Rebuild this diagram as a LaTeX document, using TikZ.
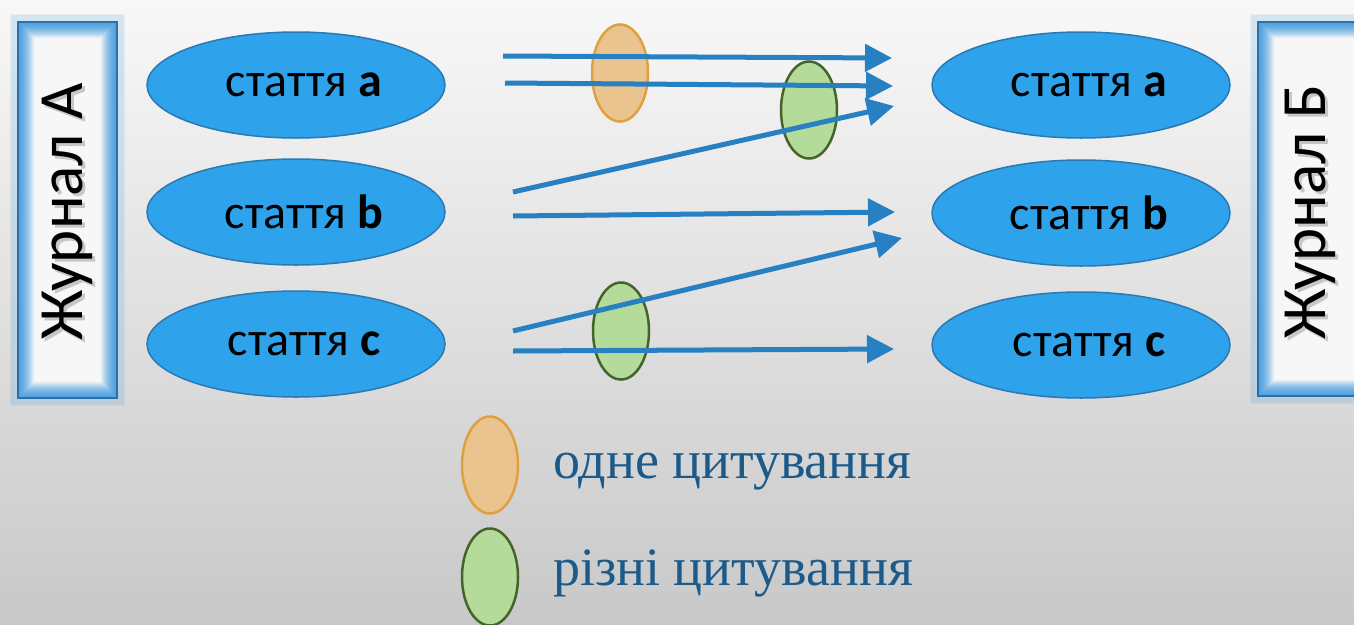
\documentclass[tikz,border=0pt]{standalone}
\usepackage{fontspec}
\setmainfont{Carlito}
\newfontfamily\legendfont{Liberation Serif}
\usetikzlibrary{arrows.meta,shapes.geometric,calc}
\definecolor{bgtop}{HTML}{F8F8F8}
\definecolor{bgbot}{HTML}{C8C8C8}
\definecolor{artfill}{HTML}{2EA2EA}
\definecolor{artline}{HTML}{2A78B4}
\definecolor{arrowblue}{HTML}{2680C2}
\definecolor{orfill}{HTML}{E9C48E}
\definecolor{orline}{HTML}{DFA040}
\definecolor{grfill}{HTML}{B5DB9B}
\definecolor{grline}{HTML}{46642A}
\definecolor{legtext}{HTML}{1C5A8A}
\definecolor{glow}{HTML}{4A9FE0}
\definecolor{frameline}{HTML}{2F6FA8}
\tikzset{
  article/.style={ellipse, fill=artfill, draw=artline, line width=1.5pt,
    minimum width=298pt, minimum height=106pt, inner sep=0pt},
  arttext/.style={inner sep=0pt, font=\fontsize{48}{54}\selectfont},
  cite/.style={arrowblue, line width=5pt, -{Triangle[length=27pt,width=27pt]}},
  onecite/.style={ellipse, fill=orfill, draw=orline, line width=2.5pt,
    minimum width=56pt, minimum height=97pt, inner sep=0pt},
  manycite/.style={ellipse, fill=grfill, draw=grline, line width=2.5pt,
    minimum width=56pt, minimum height=97pt, inner sep=0pt},
  legend/.style={anchor=base west, text=legtext, inner sep=0pt,
    font=\legendfont\fontsize{54}{60}\selectfont},
  journal/.style={rotate=90, inner sep=0pt, font=\fontsize{63}{68}\selectfont}
}
\begin{document}
\begin{tikzpicture}[x=1pt,y=-1pt]
\useasboundingbox (0,0) rectangle (1354,624);
\shade[top color=bgtop, bottom color=bgbot] (0,0) rectangle (1354,624);

% journal frames with glow
\foreach \xa/\xb/\yb in {18/117/398, 1258/1372/396}{
  \foreach \i in {0,...,7}{
    \draw[glow, opacity=0.10, line width=2pt]
      (\xa-\i,22-\i) rectangle (\xb+\i,\yb+\i);
  }
  \fill[white!94!gray] (\xa,22) rectangle (\xb,\yb);
  \foreach \i in {1,...,16}{
    \pgfmathsetmacro{\op}{0.85-0.052*\i}
    \draw[glow, opacity=\op, line width=1.2pt]
      (\xa+\i,22+\i) rectangle (\xb-\i,\yb-\i);
  }
  \draw[frameline, line width=1.2pt] (\xa,22) rectangle (\xb,\yb);
}
\node[journal, text=black!40, opacity=0.5] at (70,215) {Журнал А};
\node[journal] (ja) at (67,212) {Журнал А};
\node[journal, text=black!40, opacity=0.5] at (1313,215) {Журнал Б};
\node[journal] (jb) at (1310,212) {Журнал Б};

% articles
\node[article] (la) at (296,85) {};
\node[article] (lb) at (296,212) {};
\node[article] (lc) at (296,344) {};
\node[article] (ra) at (1081,85) {};
\node[article] (rb) at (1081,213) {};
\node[article] (rc) at (1081,345) {};
\foreach \n/\l in {la/a,lb/b,lc/c,ra/a,rb/b,rc/c}{
  \node[arttext] at ($(\n.center)+(8,0)$) {стаття \textbf{\l}};
}

% citation groups
\node[onecite] (o1) at (620,73) {};
\node[manycite] (g1) at (809,110) {};
\node[manycite] (g2) at (621,331) {};

% arrow ends
\coordinate (s1) at (503,56);  \coordinate (e1) at (892,58);
\coordinate (s2) at (505,83);  \coordinate (e2) at (893,86);
\coordinate (s3) at (513,192); \coordinate (e3) at (894,106);
\coordinate (s4) at (513,216); \coordinate (e4) at (895,212);
\coordinate (s5) at (513,331); \coordinate (e5) at (902,238);
\coordinate (s6) at (513,351); \coordinate (e6) at (894,349);
\foreach \k in {1,...,6}{\draw[cite] (s\k) -- (e\k);}

% legend
\node[onecite] (lo) at (490,465) {};
\node[manycite] (lg) at (490,577) {};
\node[legend] (to) at (553,478) {одне цитування};
\node[legend] (tg) at (553,585) {різні цитування};
\end{tikzpicture}
\end{document}
